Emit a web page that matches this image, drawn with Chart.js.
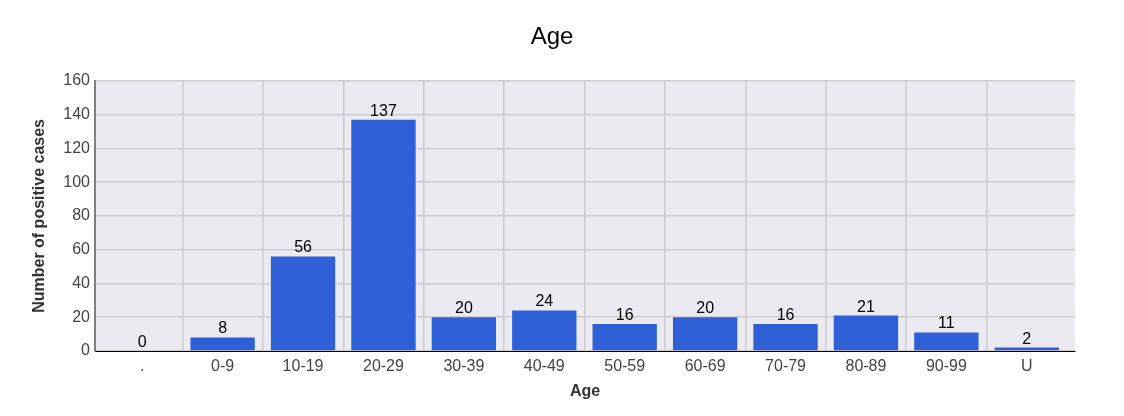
<!DOCTYPE html>
<html>
<head>
<meta charset="utf-8">
<title>Age</title>
<script src="https://cdn.jsdelivr.net/npm/chart.js@4/dist/chart.umd.min.js"></script>
<style>
  html, body { margin: 0; padding: 0; background: #ffffff; }
  #wrap { width: 1124px; height: 416px; }
</style>
</head>
<body>
<div id="wrap"><canvas id="ageChart" width="1124" height="416"></canvas></div>
<script>
const ageGroups = ['.', '0-9', '10-19', '20-29', '30-39', '40-49', '50-59', '60-69', '70-79', '80-89', '90-99', 'U'];
const positiveCases = [0, 8, 56, 137, 20, 24, 16, 20, 16, 21, 11, 2];
const yTicks = [0, 20, 40, 60, 80, 100, 120, 140, 160];

/* category axis whose categories sit a few pixels inside the plot edges */
// eslint-disable-next-line no-undef
class InsetCategoryScale extends Chart.CategoryScale {
  configure() {
    super.configure();
    const inset = this.options.inset || { start: 0, end: 0 };
    this._startPixel += inset.start;
    this._endPixel -= inset.end;
    this._length = this._endPixel - this._startPixel;
  }
}
InsetCategoryScale.id = 'insetCategory';
// eslint-disable-next-line no-undef
InsetCategoryScale.defaults = Chart.CategoryScale.defaults;
// eslint-disable-next-line no-undef
Chart.register(InsetCategoryScale);

const app = {
  // grey plot background behind the bars
  plotBackground: {
    id: 'plotBackground',
    beforeDraw: function (chart) {
      const ctx = chart.ctx;
      const area = chart.chartArea;
      ctx.save();
      ctx.fillStyle = '#eaeaf0';
      ctx.fillRect(area.left, area.top, area.right - area.left, area.bottom - area.top);
      ctx.restore();
    }
  },

  // value written above each bar
  barLabels: {
    id: 'barLabels',
    afterDatasetsDraw: function (chart) {
      const ctx = chart.ctx;
      const meta = chart.getDatasetMeta(0);
      const values = chart.data.datasets[0].data;
      ctx.save();
      ctx.font = '16px "Liberation Sans", Arial, sans-serif';
      ctx.fillStyle = '#000000';
      ctx.textAlign = 'center';
      ctx.textBaseline = 'alphabetic';
      meta.data.forEach(function (bar, i) {
        ctx.fillText(String(values[i]), bar.x, bar.y - 4);
      });
      ctx.restore();
    }
  },

  renderChart: function () {
    const ctx = document.getElementById('ageChart').getContext('2d');
    const font = '"Liberation Sans", Arial, sans-serif';

    // eslint-disable-next-line no-undef
    new Chart(ctx, {
      type: 'bar',
      data: {
        labels: ageGroups,
        datasets: [{
          label: 'Number of positive cases',
          data: positiveCases,
          backgroundColor: '#2f5fd7',
          borderWidth: 0,
          categoryPercentage: 1.0,
          barPercentage: 0.8,
        }]
      },
      options: {
        responsive: false,
        animation: false,
        devicePixelRatio: 1,
        layout: { padding: { left: 29, right: 49, top: 0, bottom: 0 } },
        plugins: {
          legend: { display: false },
          tooltip: { enabled: false },
          title: {
            display: true,
            text: 'Age',
            color: '#000000',
            font: { family: font, size: 24, weight: 'normal' },
            padding: { top: 23, bottom: 29 },
          },
        },
        scales: {
          x: {
            type: 'insetCategory',
            inset: { start: 7, end: 8 },
            grid: {
              /* only the lines between categories, none at the outer edges */
              color: function (c) {
                if (typeof c.index !== 'number' || c.index === 0) return 'rgba(0,0,0,0)';
                return '#cccccc';
              },
              lineWidth: 1.5,
              drawTicks: false,
              offset: true,
            },
            border: { color: '#000000', width: 1 },
            ticks: { color: '#444444', font: { family: font, size: 16 }, padding: 6, maxRotation: 0, autoSkip: false },
            title: {
              display: true,
              text: 'Age',
              color: '#333333',
              font: { family: font, size: 16, weight: 'bold' },
              padding: { top: 4, bottom: 15 },
            },
            afterFit: function (scale) { scale.height = 65; },
          },
          y: {
            min: 0,
            max: 160,
            afterBuildTicks: function (scale) {
              scale.ticks = yTicks.map(function (v) { return { value: v }; });
            },
            grid: { color: '#cccccc', lineWidth: 1.5, drawTicks: false },
            border: { color: '#808080', width: 2 },
            ticks: { color: '#444444', font: { family: font, size: 16 }, padding: 5 },
            title: {
              display: true,
              text: 'Number of positive cases',
              color: '#333333',
              font: { family: font, size: 16, weight: 'bold' },
              padding: { top: 1, bottom: 0 },
            },
            afterFit: function (scale) { scale.width = 66; },
          },
        },
      },
      plugins: [app.plotBackground, app.barLabels],
    });
  },

  init: function () {
    this.renderChart();
  }
};

app.init();
</script>
</body>
</html>
